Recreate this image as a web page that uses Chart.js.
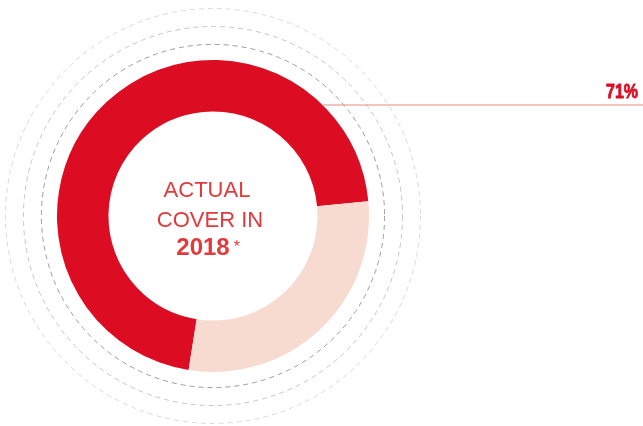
<!DOCTYPE html>
<html>
<head>
<meta charset="utf-8">
<script src="https://cdn.jsdelivr.net/npm/chart.js@4"></script>
<style>
  html, body { margin: 0; padding: 0; background: #fff; }
  #wrap { width: 643px; height: 426px; position: relative; }
</style>
</head>
<body>
<div id="wrap"><canvas id="coverChart"></canvas></div>
<script>
// Data
const categories = ['Actual cover', 'Remaining'];
const values = [71, 29];
const colors = ['#DC0D23', '#F8DBD0'];
const centerLines = ['ACTUAL', 'COVER IN'];
const centerYear = '2018';

// dashed rings around the donut (radius factor vs outer radius, colour)
const rings = [
    { f: 1.100, color: '#9c9c9c' },
    { f: 1.215, color: '#c6c6c6' },
    { f: 1.330, color: '#d9d9d9' }
];

/**
 * Vẽ vòng nét đứt, chữ giữa và đường chú thích
 */
const decoPlugin = {
    id: 'deco',
    beforeDatasetsDraw(chart) {
        const arc = chart.getDatasetMeta(0).data[0];
        if (!arc) return;
        const ctx = chart.ctx;
        ctx.save();
        ctx.lineWidth = 1;
        ctx.setLineDash([5, 4]);
        rings.forEach(r => {
            ctx.strokeStyle = r.color;
            ctx.beginPath();
            ctx.arc(arc.x, arc.y, arc.outerRadius * r.f, 0, Math.PI * 2);
            ctx.stroke();
        });
        ctx.restore();
    },
    afterDatasetsDraw(chart) {
        const arc = chart.getDatasetMeta(0).data[0];
        if (!arc) return;
        const ctx = chart.ctx;
        const cx = arc.x, cy = arc.y;
        ctx.save();

        // center text
        ctx.fillStyle = '#E23A3C';
        ctx.textAlign = 'center';
        ctx.textBaseline = 'alphabetic';
        ctx.font = '300 22px "Liberation Sans", Arial, sans-serif';
        ctx.fillText(centerLines[0], cx - 6, cy - 19);
        ctx.fillText(centerLines[1], cx - 3, cy + 11);
        ctx.font = 'bold 24px "Liberation Sans", Arial, sans-serif';
        const yw = ctx.measureText(centerYear).width;
        ctx.fillText(centerYear, cx - 10, cy + 39);
        ctx.font = '16px "Liberation Sans", Arial, sans-serif';
        ctx.textAlign = 'left';
        ctx.fillText('*', cx - 10 + yw / 2 + 4, cy + 36);

        // leader line from the outer edge of the red slice
        const ly = 105;
        const dy = ly - cy;
        const lx = cx + Math.sqrt(Math.max(0, arc.outerRadius * arc.outerRadius - dy * dy));
        ctx.strokeStyle = '#EE8A80';
        ctx.lineWidth = 1.2;
        ctx.beginPath();
        ctx.moveTo(lx, ly);
        ctx.lineTo(chart.width, ly);
        ctx.stroke();

        // value label, condensed heavy bold
        ctx.fillStyle = '#DC0D23';
        ctx.strokeStyle = '#DC0D23';
        ctx.lineWidth = 0.8;
        ctx.textAlign = 'right';
        ctx.font = 'bold 20px "Liberation Sans", Arial, sans-serif';
        ctx.translate(chart.width - 5, 98);
        ctx.scale(0.8, 1);
        ctx.fillText(values[0] + '%', 0, 0);
        ctx.strokeText(values[0] + '%', 0, 0);
        ctx.restore();
    }
};

new Chart(document.getElementById('coverChart'), {
    type: 'doughnut',
    data: {
        labels: categories,
        datasets: [{
            data: values,
            backgroundColor: colors,
            borderWidth: 0,
            hoverOffset: 0
        }]
    },
    options: {
        responsive: true,
        maintainAspectRatio: false,
        animation: false,
        rotation: 189,
        cutout: '67%',
        layout: {
            padding: { left: 57, right: 274, top: 60, bottom: 54 }
        },
        plugins: {
            legend: { display: false },
            tooltip: { enabled: false }
        }
    },
    plugins: [decoPlugin]
});
</script>
</body>
</html>
